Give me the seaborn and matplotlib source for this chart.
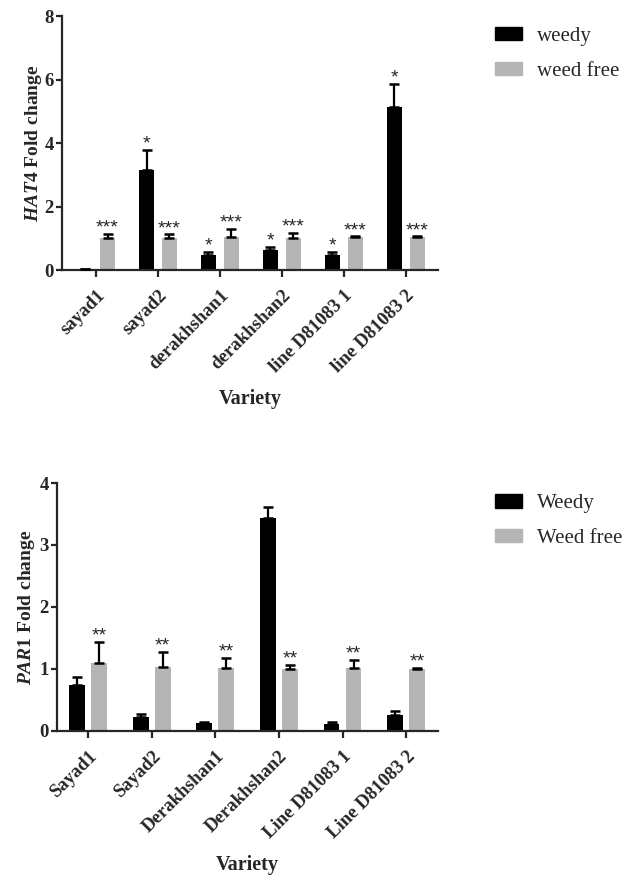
import matplotlib
matplotlib.use("Agg")
import matplotlib.pyplot as plt
import seaborn as sns
import pandas as pd

# HAT4 panel
hat4_varieties = ["sayad1", "sayad2", "derakhshan1", "derakhshan2",
                  "line D81083 1", "line D81083 2"]
hat4_groups = ["weedy", "weed free"]
hat4_weedy = [0.03, 3.14, 0.48, 0.64, 0.48, 5.13]
hat4_weedy_err = [0.01, 0.63, 0.08, 0.10, 0.10, 0.74]
hat4_free = [1.00, 1.00, 1.03, 1.00, 1.03, 1.03]
hat4_free_err = [0.14, 0.12, 0.26, 0.17, 0.03, 0.03]
hat4_weedy_sig = ["", "*", "*", "*", "*", "*"]
hat4_free_sig = ["***", "***", "***", "***", "***", "***"]

# PAR1 panel
par1_varieties = ["Sayad1", "Sayad2", "Derakhshan1", "Derakhshan2",
                  "Line D81083 1", "Line D81083 2"]
par1_groups = ["Weedy", "Weed free"]
par1_weedy = [0.74, 0.22, 0.13, 3.44, 0.11, 0.25]
par1_weedy_err = [0.13, 0.05, 0.02, 0.17, 0.03, 0.08]
par1_free = [1.09, 1.03, 1.01, 1.00, 1.01, 1.00]
par1_free_err = [0.34, 0.24, 0.17, 0.07, 0.14, 0.02]
par1_weedy_sig = ["", "", "", "", "", ""]
par1_free_sig = ["**", "**", "**", "**", "**", "**"]

colors = ["#000000", "#b5b5b5"]

sns.set_style("ticks")
plt.rcParams["font.family"] = ["Liberation Serif", "DejaVu Serif"]
plt.rcParams["font.weight"] = "bold"
plt.rcParams["mathtext.fontset"] = "custom"
plt.rcParams["mathtext.it"] = "Liberation Serif:italic:bold"
plt.rcParams["mathtext.rm"] = "Liberation Serif:bold"


def draw_panel(ax, varieties, groups, weedy, weedy_err, free, free_err,
               weedy_sig, free_sig, ymax, yticks, ylabel, width, gap,
               xlim, leg_anchor, ylabelpad):
    df = pd.DataFrame({
        "Variety": varieties * 2,
        "Group": [groups[0]] * len(varieties) + [groups[1]] * len(varieties),
        "Value": weedy + free,
    })
    sns.barplot(data=df, x="Variety", y="Value", hue="Group",
                hue_order=groups, palette=colors, errorbar=None,
                width=width, gap=gap, linewidth=0, ax=ax, legend=False)

    errs = [weedy_err, free_err]
    sigs = [weedy_sig, free_sig]
    for cont, err, sig in zip(ax.containers, errs, sigs):
        xs = [b.get_x() + b.get_width() / 2 for b in cont]
        ys = [b.get_height() for b in cont]
        ax.errorbar(xs, ys, yerr=[[0] * len(err), err], fmt="none",
                    ecolor="black", elinewidth=1.6, capsize=3.5,
                    capthick=1.8, zorder=3)
        for x, y, e, s in zip(xs, ys, err, sig):
            if s:
                ax.annotate(s, (x, y + e), xytext=(0, 1),
                            textcoords="offset points", ha="center",
                            va="baseline", fontsize=14,
                            family="Liberation Sans", weight="normal")

    ax.set_ylim(0, ymax)
    ax.set_yticks(yticks)
    ax.set_xlim(*xlim)
    ax.set_ylabel(ylabel, fontsize=14, fontweight="bold", labelpad=ylabelpad)
    ax.set_xlabel("Variety", fontsize=14.5, fontweight="bold", labelpad=10)
    sns.despine(ax=ax)
    for sp in ["left", "bottom"]:
        ax.spines[sp].set_linewidth(1.6)
    ax.tick_params(axis="y", labelsize=13.5, width=1.6, length=4, pad=2)
    ax.tick_params(axis="x", labelsize=13.5, width=1.6, length=5, pad=7)
    for lab in ax.get_xticklabels():
        lab.set_rotation(45)
        lab.set_ha("right")
        lab.set_rotation_mode("anchor")
        lab.set_fontweight("bold")
    for lab in ax.get_yticklabels():
        lab.set_fontweight("bold")

    handles = [plt.Rectangle((0, 0), 1, 1, color=c) for c in colors]
    ax.legend(handles, groups, loc="upper left", bbox_to_anchor=leg_anchor,
              bbox_transform=ax.figure.transFigure, frameon=False,
              prop={"family": "Liberation Serif", "weight": "normal",
                    "size": 15},
              handlelength=1.3, handleheight=0.6, handletextpad=0.7,
              labelspacing=0.75, borderpad=0, borderaxespad=0)


fig = plt.figure(figsize=(6.29, 8.75), dpi=100)
ax1 = fig.add_axes([0.0986, 0.6914, 0.5977, 0.2903])
ax2 = fig.add_axes([0.0906, 0.1646, 0.6057, 0.2834])

draw_panel(ax1, hat4_varieties, hat4_groups, hat4_weedy, hat4_weedy_err,
           hat4_free, hat4_free_err, hat4_weedy_sig, hat4_free_sig,
           8, [0, 2, 4, 6, 8], r"$\mathit{HAT4}$ Fold change",
           0.74, 0.35, (-0.55, 5.52), (0.787, 0.969), 0)
draw_panel(ax2, par1_varieties, par1_groups, par1_weedy, par1_weedy_err,
           par1_free, par1_free_err, par1_weedy_sig, par1_free_sig,
           4, [0, 1, 2, 3, 4], r"$\mathit{PAR1}$ Fold change",
           0.69, 0.28, (-0.49, 5.5), (0.787, 0.435), 2)

fig.savefig("out.png", dpi=100)
